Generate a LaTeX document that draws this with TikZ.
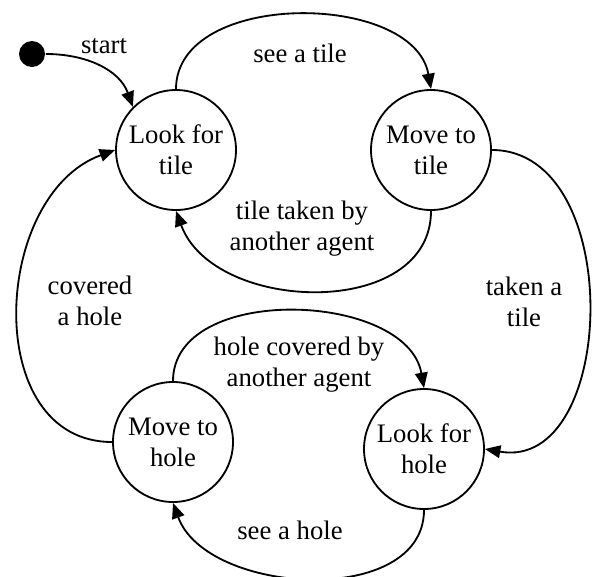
\documentclass[tikz,border=0pt]{standalone}
\usepackage{fontspec}
\setmainfont{Liberation Serif}
\usetikzlibrary{arrows.meta, positioning}

\begin{document}
\begin{tikzpicture}[>={Triangle[length=11pt,width=9pt]}, line width=1.3pt,
  every node/.style={font=\fontsize{19}{22}\selectfont, align=center},
  state/.style={draw, circle, minimum size=3cm, inner sep=0pt}]
\useasboundingbox (0,0) rectangle (14.9,-14.4);
\node[fill, circle, minimum size=0.65cm, inner sep=0pt] (init) at (0.8,-1.35) {};
\node[state] (lt) at (4.4,-3.75) {Look for\\tile};
\node[state] (mt) at (10.775,-3.75) {Move to\\tile};
\node[state] (mh) at (4.325,-11.05) {Move to\\hole};
\node[state] (lh) at (10.6,-11.225) {Look for\\hole};
\draw[->] (init.east) to[out=0,in=110] (lt.135);
\draw[->] (lt.north) to[out=90,in=100] (mt.north);
\draw[->] (mt.south) to[out=-90,in=-70,looseness=1.1] (lt.south);
\draw[->] (mt.east) to[out=0,in=-10,looseness=1.15] (lh.east);
\draw[->] (mh.north) to[out=90,in=100] (lh.north);
\draw[->] (lh.south) to[out=-90,in=-70] (mh.south);
\draw[->] (mh.west) to[out=180,in=200,looseness=1.15] (lt.west);
\node (lstart) at (2.6,-1.15) {start};
\node (lsee) at (7.5,-1.325) {see a tile};
\node (ltaken) at (7.55,-5.72) {tile taken by\\another agent};
\node (ltakena) at (13.1,-7.55) {taken a\\tile};
\node (lcovered) at (2.25,-7.525) {covered\\a hole};
\node (lhole) at (7.475,-9.125) {hole covered by\\another agent};
\node (lseeh) at (7.25,-13.25) {see a hole};
\end{tikzpicture}
\end{document}
